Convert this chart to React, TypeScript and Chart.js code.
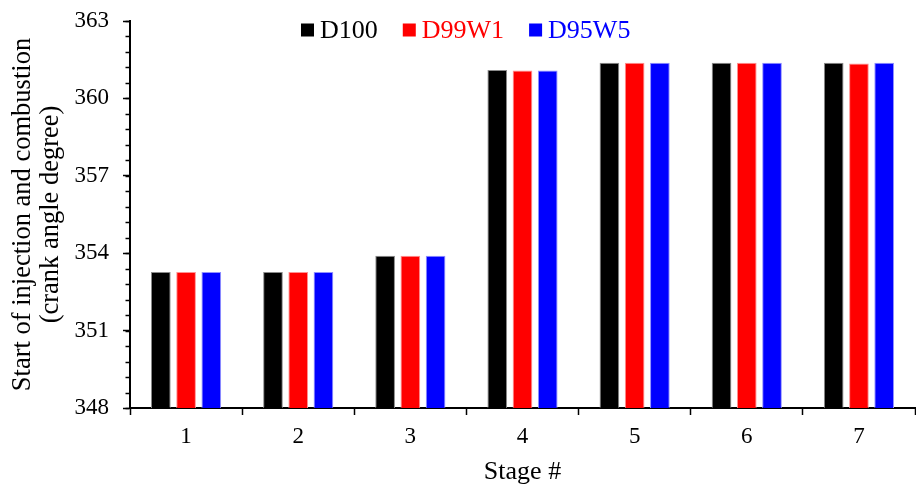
import React, { useEffect, useRef } from "react";
import { Chart, registerables } from "chart.js";

Chart.register(...registerables);

const stages = ["1", "2", "3", "4", "5", "6", "7"];
const seriesNames = ["D100", "D99W1", "D95W5"];
const seriesColors = ["#000000", "#ff0000", "#0000ff"];
const seriesBorders = ["#8a8a8a", "#ff9090", "#9090ff"];
const d100 = [353.27, 353.27, 353.9, 361.1, 361.38, 361.38, 361.38];
const d99w1 = [353.27, 353.27, 353.9, 361.08, 361.38, 361.38, 361.35];
const d95w5 = [353.27, 353.27, 353.9, 361.08, 361.38, 361.38, 361.38];
const yMin = 348;
const yMax = 363;
const yMajorStep = 3;
const yMinorStep = 0.6;
const yTitle = ["Start of injection and combustion", "(crank angle degree)"];
const xTitle = "Stage #";

const FONT = "'Liberation Serif', 'Times New Roman', serif";

const minorTicksPlugin = {
  id: "minorTicks",
  afterDraw(chart: any) {
    const y = chart.scales.y;
    const ctx = chart.ctx;
    const left = chart.chartArea.left;
    ctx.save();
    ctx.strokeStyle = "#000";
    ctx.lineWidth = 1.5;
    const n = Math.round((yMax - yMin) / yMinorStep);
    for (let i = 0; i <= n; i++) {
      const v = yMin + i * yMinorStep;
      const p = Math.round(y.getPixelForValue(v)) + 0.5;
      ctx.beginPath();
      ctx.moveTo(left - 4.5, p);
      ctx.lineTo(left, p);
      ctx.stroke();
    }
    ctx.restore();
  },
};

const legendPlugin = {
  id: "customLegend",
  afterDraw(chart: any) {
    const ctx = chart.ctx;
    ctx.save();
    ctx.font = `26px ${FONT}`;
    ctx.textBaseline = "middle";
    let x = 301;
    const cy = 30;
    chart.data.datasets.forEach((ds: any) => {
      ctx.fillStyle = ds.backgroundColor;
      ctx.fillRect(x, cy - 6.5, 13, 13);
      x += 19;
      ctx.fillText(ds.label, x, cy + 1);
      x += ctx.measureText(ds.label).width + 25;
    });
    ctx.restore();
  },
};

export default function App() {
  const ref = useRef<HTMLCanvasElement | null>(null);

  useEffect(() => {
    if (!ref.current) return;
    const values = [d100, d99w1, d95w5];
    const chart = new Chart(ref.current, {
      type: "bar",
      data: {
        labels: stages,
        datasets: seriesNames.map((name, i) => ({
          label: name,
          data: values[i],
          backgroundColor: seriesColors[i],
          borderColor: seriesBorders[i],
          borderWidth: 1,
          categoryPercentage: 0.675,
          barPercentage: 0.78,
        })),
      },
      options: {
        animation: false,
        responsive: false,
        maintainAspectRatio: false,
        layout: { padding: { top: 21, right: 1, left: 0, bottom: 0 } },
        plugins: {
          legend: { display: false },
          tooltip: { enabled: false },
        },
        scales: {
          x: {
            offset: true,
            grid: {
              display: true,
              offset: true,
              drawOnChartArea: false,
              drawTicks: true,
              tickLength: 7,
              tickColor: "#000",
              tickWidth: 1.5,
            },
            border: { display: true, color: "#000", width: 2 },
            ticks: {
              color: "#000",
              font: { family: FONT, size: 23 },
              padding: 8,
            },
            title: {
              display: true,
              text: xTitle,
              color: "#000",
              font: { family: FONT, size: 26 },
              padding: { top: 0, bottom: 0 },
            },
            afterFit(scale: any) {
              scale.height = 80;
              scale.paddingLeft = 0;
              scale.paddingRight = 0;
            },
          },
          y: {
            min: yMin,
            max: yMax,
            grid: {
              display: true,
              drawOnChartArea: false,
              drawTicks: true,
              tickLength: 7,
              tickColor: "#000",
              tickWidth: 1.5,
            },
            border: { display: true, color: "#000", width: 2 },
            ticks: {
              stepSize: yMajorStep,
              color: "#000",
              font: { family: FONT, size: 23 },
              padding: 14,
            },
            title: {
              display: true,
              text: yTitle,
              color: "#000",
              font: { family: FONT, size: 26.5, lineHeight: 1.05 },
              padding: { top: 9, bottom: 0 },
            },
            afterFit(scale: any) {
              scale.width = 130;
              scale.paddingTop = 0;
              scale.paddingBottom = 0;
            },
          },
        },
      },
      plugins: [minorTicksPlugin, legendPlugin],
    });
    return () => chart.destroy();
  }, []);

  return (
    <div style={{ position: "fixed", left: 0, top: 0, width: 916, height: 488, background: "#fff" }}>
      <canvas ref={ref} width={916} height={488} style={{ width: 916, height: 488 }} />
    </div>
  );
}
